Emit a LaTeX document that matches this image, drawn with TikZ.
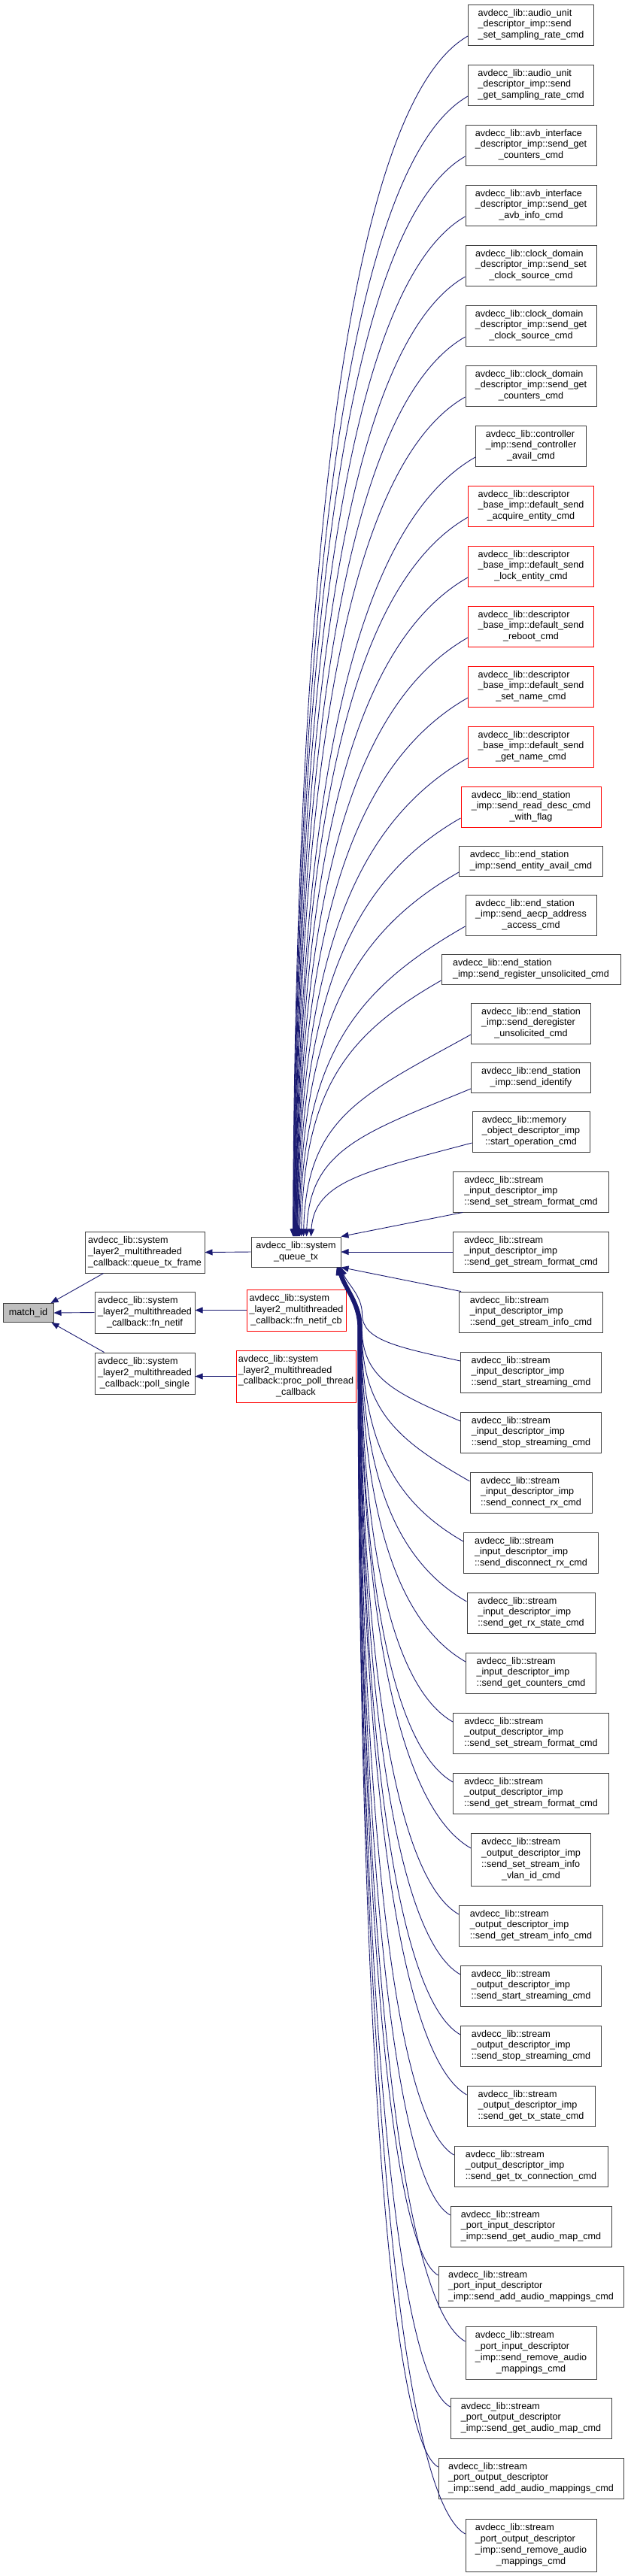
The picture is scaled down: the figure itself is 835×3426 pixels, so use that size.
\documentclass[tikz,border=0pt]{standalone}
\usepackage{fontspec}
\setmainfont{Liberation Sans}
\usetikzlibrary{arrows.meta,calc}
\definecolor{edgecol}{HTML}{191970}
\definecolor{midgray}{HTML}{BFBFBF}
\newcommand\dxfont{\fontsize{12.6}{14.7}\selectfont}
\newcommand\dxlab[2]{\begin{tabular}{@{}l@{}}#1\\\multicolumn{1}{@{}c@{}}{#2}\end{tabular}}
\tikzset{
  dxbox/.style={draw=black!75, fill=white, line width=1pt, inner sep=0pt, font=\dxfont, align=center},
  dxred/.style={dxbox, draw=red},
  dxedge/.style={draw=edgecol, line width=0.9pt, {Triangle[length=10pt,width=8pt]}-},
}
\newcommand\dxtop[2]{%
 \draw[dxedge] let \p1=($(qtx.north)+(#2,0)$), \p2=($(#1.west)+(0,-15)$),
  \n1={0.655*(\x2-\x1)}, \n2={min(0.375*(\x2-\x1),0.3*(\y2-\y1))} in
  (\p1) .. controls ({\x1+4pt},{\y1+0.59*(\y2-\y1)}) and ({\x2-\n1},{\y2-\n2}) .. (\p2);}
\newcommand\dxbot[2]{%
 \draw[dxedge] let \p1=($(qtx.south east)+(#2,0)$), \p2=($(#1.west)+(0,15)$),
  \n3={\y1-\y2}, \n4={min(80pt,0.5*(\y1-\y2))},
  \n1={0.655*(\x2-\x1-28pt)}, \n2={min(0.375*(\x2-\x1-28pt),0.3*(\y1-\y2-\n4))} in
  (\p1) .. controls ({\x1+8pt},{\y1-0.35*\n4}) and ({\x1+28pt},{\y1-0.6*\n4}) .. ({\x1+28pt},{\y1-\n4})
   .. controls ({\x1+28pt},{\y1-\n4-0.55*(\n3-\n4)}) and ({\x2-\n1},{\y2+\n2}) .. (\p2);}
\begin{document}
\begin{tikzpicture}[x=1pt,y=1pt]
\useasboundingbox (0,0) rectangle (835,-3426);
% left part
\node[dxbox, fill=midgray, minimum width=67, minimum height=25] (mid) at (37.5,-1746) {match\_id};
\node[dxbox, minimum width=159, minimum height=55] (qtf) at (192.5,-1665.5) {\dxlab{avdecc\_lib::system\\\_layer2\_multithreaded}{\_callback::queue\_tx\_frame}};
\node[dxbox, minimum width=133, minimum height=55] (fnn) at (192.5,-1745.5) {\dxlab{avdecc\_lib::system\\\_layer2\_multithreaded}{\_callback::fn\_netif}};
\node[dxbox, minimum width=133, minimum height=55] (pol) at (192.5,-1826.5) {\dxlab{avdecc\_lib::system\\\_layer2\_multithreaded}{\_callback::poll\_single}};
\node[dxbox, minimum width=119, minimum height=40] (qtx) at (393.5,-1665) {\dxlab{avdecc\_lib::system}{\_queue\_tx}};
\node[dxred, minimum width=132, minimum height=55] (fncb) at (394,-1742.5) {\dxlab{avdecc\_lib::system\\\_layer2\_multithreaded}{\_callback::fn\_netif\_cb}};
\node[dxred, minimum width=159, minimum height=69] (ppc) at (393.5,-1830.5) {\dxlab{avdecc\_lib::system\\\_layer2\_multithreaded\\\_callback::proc\_poll\_thread}{\_callback}};
% right column
\node[dxbox, minimum width=167, minimum height=54] (b1) at (706,-33) {\dxlab{avdecc\_lib::audio\_unit\\\_descriptor\_imp::send}{\_set\_sampling\_rate\_cmd}};
\node[dxbox, minimum width=167, minimum height=54] (b2) at (706,-113) {\dxlab{avdecc\_lib::audio\_unit\\\_descriptor\_imp::send}{\_get\_sampling\_rate\_cmd}};
\node[dxbox, minimum width=174, minimum height=54] (b3) at (706,-193) {\dxlab{avdecc\_lib::avb\_interface\\\_descriptor\_imp::send\_get}{\_counters\_cmd}};
\node[dxbox, minimum width=174, minimum height=54] (b4) at (706,-273) {\dxlab{avdecc\_lib::avb\_interface\\\_descriptor\_imp::send\_get}{\_avb\_info\_cmd}};
\node[dxbox, minimum width=174, minimum height=54] (b5) at (706,-353) {\dxlab{avdecc\_lib::clock\_domain\\\_descriptor\_imp::send\_set}{\_clock\_source\_cmd}};
\node[dxbox, minimum width=174, minimum height=54] (b6) at (706,-433) {\dxlab{avdecc\_lib::clock\_domain\\\_descriptor\_imp::send\_get}{\_clock\_source\_cmd}};
\node[dxbox, minimum width=174, minimum height=54] (b7) at (706,-513) {\dxlab{avdecc\_lib::clock\_domain\\\_descriptor\_imp::send\_get}{\_counters\_cmd}};
\node[dxbox, minimum width=147, minimum height=54] (b8) at (706,-593) {\dxlab{avdecc\_lib::controller\\\_imp::send\_controller}{\_avail\_cmd}};
\node[dxred, minimum width=167, minimum height=54] (b9) at (706,-673) {\dxlab{avdecc\_lib::descriptor\\\_base\_imp::default\_send}{\_acquire\_entity\_cmd}};
\node[dxred, minimum width=167, minimum height=54] (b10) at (706,-753) {\dxlab{avdecc\_lib::descriptor\\\_base\_imp::default\_send}{\_lock\_entity\_cmd}};
\node[dxred, minimum width=167, minimum height=54] (b11) at (706,-833) {\dxlab{avdecc\_lib::descriptor\\\_base\_imp::default\_send}{\_reboot\_cmd}};
\node[dxred, minimum width=167, minimum height=54] (b12) at (706,-913) {\dxlab{avdecc\_lib::descriptor\\\_base\_imp::default\_send}{\_set\_name\_cmd}};
\node[dxred, minimum width=167, minimum height=54] (b13) at (706,-993) {\dxlab{avdecc\_lib::descriptor\\\_base\_imp::default\_send}{\_get\_name\_cmd}};
\node[dxred, minimum width=186, minimum height=54] (b14) at (706,-1073) {\dxlab{avdecc\_lib::end\_station\\\_imp::send\_read\_desc\_cmd}{\_with\_flag}};
\node[dxbox, minimum width=191, minimum height=40] (b15) at (706,-1145) {\dxlab{avdecc\_lib::end\_station}{\_imp::send\_entity\_avail\_cmd}};
\node[dxbox, minimum width=174, minimum height=54] (b16) at (706,-1217) {\dxlab{avdecc\_lib::end\_station\\\_imp::send\_aecp\_address}{\_access\_cmd}};
\node[dxbox, minimum width=238, minimum height=40] (b17) at (706,-1289) {\dxlab{avdecc\_lib::end\_station}{\_imp::send\_register\_unsolicited\_cmd}};
\node[dxbox, minimum width=159, minimum height=54] (b18) at (706,-1361) {\dxlab{avdecc\_lib::end\_station\\\_imp::send\_deregister}{\_unsolicited\_cmd}};
\node[dxbox, minimum width=159, minimum height=40] (b19) at (706,-1433) {\dxlab{avdecc\_lib::end\_station}{\_imp::send\_identify}};
\node[dxbox, minimum width=156, minimum height=54] (b20) at (706,-1505) {\dxlab{avdecc\_lib::memory\\\_object\_descriptor\_imp}{::start\_operation\_cmd}};
\node[dxbox, minimum width=207, minimum height=54] (b21) at (706,-1585) {\dxlab{avdecc\_lib::stream\\\_input\_descriptor\_imp}{::send\_set\_stream\_format\_cmd}};
\node[dxbox, minimum width=207, minimum height=54] (b22) at (706,-1665) {\dxlab{avdecc\_lib::stream\\\_input\_descriptor\_imp}{::send\_get\_stream\_format\_cmd}};
\node[dxbox, minimum width=191, minimum height=54] (b23) at (706,-1745) {\dxlab{avdecc\_lib::stream\\\_input\_descriptor\_imp}{::send\_get\_stream\_info\_cmd}};
\node[dxbox, minimum width=187, minimum height=54] (b24) at (706,-1825) {\dxlab{avdecc\_lib::stream\\\_input\_descriptor\_imp}{::send\_start\_streaming\_cmd}};
\node[dxbox, minimum width=187, minimum height=54] (b25) at (706,-1905) {\dxlab{avdecc\_lib::stream\\\_input\_descriptor\_imp}{::send\_stop\_streaming\_cmd}};
\node[dxbox, minimum width=162, minimum height=54] (b26) at (706,-1985) {\dxlab{avdecc\_lib::stream\\\_input\_descriptor\_imp}{::send\_connect\_rx\_cmd}};
\node[dxbox, minimum width=179, minimum height=54] (b27) at (706,-2065) {\dxlab{avdecc\_lib::stream\\\_input\_descriptor\_imp}{::send\_disconnect\_rx\_cmd}};
\node[dxbox, minimum width=170, minimum height=54] (b28) at (706,-2145) {\dxlab{avdecc\_lib::stream\\\_input\_descriptor\_imp}{::send\_get\_rx\_state\_cmd}};
\node[dxbox, minimum width=173, minimum height=54] (b29) at (706,-2225) {\dxlab{avdecc\_lib::stream\\\_input\_descriptor\_imp}{::send\_get\_counters\_cmd}};
\node[dxbox, minimum width=207, minimum height=54] (b30) at (706,-2305) {\dxlab{avdecc\_lib::stream\\\_output\_descriptor\_imp}{::send\_set\_stream\_format\_cmd}};
\node[dxbox, minimum width=207, minimum height=54] (b31) at (706,-2385) {\dxlab{avdecc\_lib::stream\\\_output\_descriptor\_imp}{::send\_get\_stream\_format\_cmd}};
\node[dxbox, minimum width=159, minimum height=70] (b32) at (706,-2473) {\dxlab{avdecc\_lib::stream\\\_output\_descriptor\_imp\\::send\_set\_stream\_info}{\_vlan\_id\_cmd}};
\node[dxbox, minimum width=191, minimum height=54] (b33) at (706,-2561) {\dxlab{avdecc\_lib::stream\\\_output\_descriptor\_imp}{::send\_get\_stream\_info\_cmd}};
\node[dxbox, minimum width=187, minimum height=54] (b34) at (706,-2641) {\dxlab{avdecc\_lib::stream\\\_output\_descriptor\_imp}{::send\_start\_streaming\_cmd}};
\node[dxbox, minimum width=187, minimum height=54] (b35) at (706,-2721) {\dxlab{avdecc\_lib::stream\\\_output\_descriptor\_imp}{::send\_stop\_streaming\_cmd}};
\node[dxbox, minimum width=170, minimum height=54] (b36) at (706,-2801) {\dxlab{avdecc\_lib::stream\\\_output\_descriptor\_imp}{::send\_get\_tx\_state\_cmd}};
\node[dxbox, minimum width=204, minimum height=54] (b37) at (706,-2881) {\dxlab{avdecc\_lib::stream\\\_output\_descriptor\_imp}{::send\_get\_tx\_connection\_cmd}};
\node[dxbox, minimum width=214, minimum height=54] (b38) at (706,-2961) {\dxlab{avdecc\_lib::stream\\\_port\_input\_descriptor}{\_imp::send\_get\_audio\_map\_cmd}};
\node[dxbox, minimum width=246, minimum height=54] (b39) at (706,-3041) {\dxlab{avdecc\_lib::stream\\\_port\_input\_descriptor}{\_imp::send\_add\_audio\_mappings\_cmd}};
\node[dxbox, minimum width=174, minimum height=70] (b40) at (706,-3129) {\dxlab{avdecc\_lib::stream\\\_port\_input\_descriptor\\\_imp::send\_remove\_audio}{\_mappings\_cmd}};
\node[dxbox, minimum width=214, minimum height=54] (b41) at (706,-3216) {\dxlab{avdecc\_lib::stream\\\_port\_output\_descriptor}{\_imp::send\_get\_audio\_map\_cmd}};
\node[dxbox, minimum width=246, minimum height=54] (b42) at (706,-3296) {\dxlab{avdecc\_lib::stream\\\_port\_output\_descriptor}{\_imp::send\_add\_audio\_mappings\_cmd}};
\node[dxbox, minimum width=174, minimum height=70] (b43) at (706,-3385) {\dxlab{avdecc\_lib::stream\\\_port\_output\_descriptor\\\_imp::send\_remove\_audio}{\_mappings\_cmd}};
% left edges
\draw[dxedge] (qtf.east) -- (qtx.west);
\draw[dxedge] (fnn.east |- fncb.west) -- (fncb.west);
\draw[dxedge] (pol.east |- ppc.west) -- (ppc.west);
\draw[dxedge] ($(mid.north east)+(-4,0)$) -- ($(qtf.south west)+(25,0)$);
\draw[dxedge] (mid.east) -- (fnn.west);
\draw[dxedge] ($(mid.south east)+(-3,0)$) -- ($(pol.north west)+(13,0)$);
% top edges
\dxtop{b1}{-4}
\dxtop{b2}{-3.5}
\dxtop{b3}{-3}
\dxtop{b4}{-2.5}
\dxtop{b5}{-2}
\dxtop{b6}{-1.5}
\dxtop{b7}{-1}
\dxtop{b8}{-0.5}
\dxtop{b9}{0}
\dxtop{b10}{0.5}
\dxtop{b11}{1}
\dxtop{b12}{1.5}
\dxtop{b13}{2}
\dxtop{b14}{3}
\dxtop{b15}{4}
\dxtop{b16}{5}
\dxtop{b17}{7}
\dxtop{b18}{10}
\dxtop{b19}{14}
\dxtop{b20}{20}
% middle edges
\draw[dxedge] (qtx.north east) -- ($(b21.south west)+(13,0)$);
\draw[dxedge] (qtx.east) -- (b22.west);
\draw[dxedge] (qtx.south east) -- ($(b23.north west)+(3,0)$);
% bottom edges
\dxbot{b24}{0}
\dxbot{b25}{-0.3}
\dxbot{b26}{-0.6}
\dxbot{b27}{-0.9}
\dxbot{b28}{-1.2}
\dxbot{b29}{-1.5}
\dxbot{b30}{-1.8}
\dxbot{b31}{-2.1}
\dxbot{b32}{-2.4}
\dxbot{b33}{-2.7}
\dxbot{b34}{-3}
\dxbot{b35}{-3.3}
\dxbot{b36}{-3.6}
\dxbot{b37}{-3.9}
\dxbot{b38}{-4.2}
\dxbot{b39}{-4.5}
\dxbot{b40}{-4.8}
\dxbot{b41}{-5.1}
\dxbot{b42}{-5.4}
\dxbot{b43}{-5.7}
\end{tikzpicture}
\end{document}
